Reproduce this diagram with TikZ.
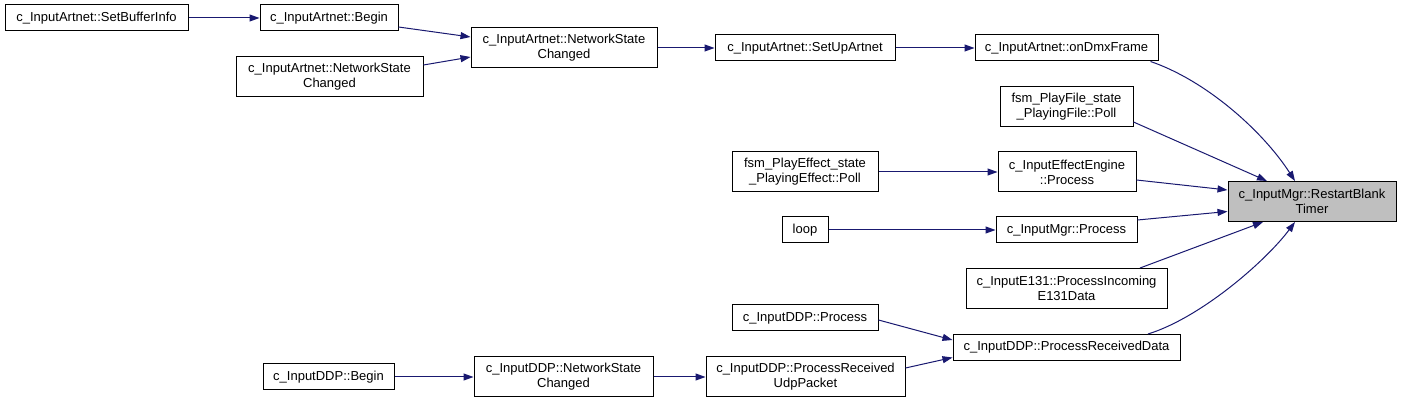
\documentclass[tikz,border=0pt]{standalone}
\usepackage{fontspec}
\setmainfont{Liberation Sans}
\usetikzlibrary{arrows.meta,calc}
\definecolor{edgeblue}{RGB}{25,25,112}
\definecolor{targetgray}{RGB}{191,191,191}
\tikzset{
  fn/.style={draw=black, line width=1pt, fill=white, inner sep=0pt, align=center,
    font=\fontsize{13pt}{15pt}\selectfont, minimum height=26pt},
  fn2/.style={fn, minimum height=40pt},
  target/.style={fn2, fill=targetgray},
  call/.style={draw=edgeblue, line width=1pt, -{Triangle[length=10pt,width=7pt]}},
}
\begin{document}
\begin{tikzpicture}[x=1pt,y=-1pt]
\useasboundingbox (0,0) rectangle (1401,403);
% nodes
\node[fn, minimum width=183pt] (n1) at (96.5,18) {c\_InputArtnet::SetBufferInfo};
\node[fn, minimum width=138pt] (n2) at (329,18) {c\_InputArtnet::Begin};
\node[fn2, minimum width=187pt] (n3) at (329.5,77) {c\_InputArtnet::NetworkState\\Changed};
\node[fn2, minimum width=186pt] (n4) at (564,48) {c\_InputArtnet::NetworkState\\Changed};
\node[fn, minimum width=180pt] (n5) at (805,48) {c\_InputArtnet::SetUpArtnet};
\node[fn, minimum width=183pt] (n6) at (1066.5,48) {c\_InputArtnet::onDmxFrame};
\node[fn2, minimum width=133pt] (n7) at (1066.5,107) {fsm\_PlayFile\_state\\\_PlayingFile::Poll};
\node[fn2, minimum width=138pt] (n8) at (1067,172) {c\_InputEffectEngine\\::Process};
\node[fn, minimum width=141pt] (n9) at (1066.5,230) {c\_InputMgr::Process};
\node[fn2, minimum width=201pt] (n10) at (1066.5,288.5) {c\_InputE131::ProcessIncoming\\E131Data};
\node[fn, minimum width=227pt] (n11) at (1066.5,347.5) {c\_InputDDP::ProcessReceivedData};
\node[target, minimum width=168pt] (t) at (1312,201.5) {c\_InputMgr::RestartBlank\\Timer};
\node[fn2, minimum width=146pt] (n12) at (805,172) {fsm\_PlayEffect\_state\\\_PlayingEffect::Poll};
\node[fn, minimum width=46pt] (n13) at (805,230) {loop};
\node[fn, minimum width=146pt] (n14) at (805,318) {c\_InputDDP::Process};
\node[fn2, minimum width=199pt] (n15) at (805.5,377) {c\_InputDDP::ProcessReceived\\UdpPacket};
\node[fn2, minimum width=179pt] (n16) at (563.5,377) {c\_InputDDP::NetworkState\\Changed};
\node[fn, minimum width=131pt] (n17) at (328.5,377) {c\_InputDDP::Begin};
% edges
\draw[call] (n1.east) -- (n2.west);
\draw[call] ($(n2.east)+(0,9)$) -- ($(n4.west)+(0,-11)$);
\draw[call] ($(n3.east)+(0,-12)$) -- ($(n4.west)+(0,9)$);
\draw[call] (n4.east) -- (n5.west);
\draw[call] (n5.east) -- (n6.west);
\draw[call] ($(n6.south east)+(-8,0)$) .. controls (1205,80) and (1262,130) .. ($(t.north)+(-17,0)$);
\draw[call] ($(n7.east)+(0,15)$) -- ($(t.north)+(-45,0)$);
\draw[call] ($(n8.east)+(0,8)$) -- ($(t.west)+(0,-11.5)$);
\draw[call] (n12.east) -- (n8.west);
\draw[call] (n13.east) -- (n9.west);
\draw[call] ($(n9.east)+(0,-10)$) -- ($(t.west)+(0,10)$);
\draw[call] ($(n10.north)+(73.5,0)$) -- ($(t.south)+(-49,0)$);
\draw[call] ($(n11.north)+(81.5,0)$) .. controls (1200,318) and (1265,262) .. ($(t.south)+(-17,0)$);
\draw[call] ($(n14.east)+(0,2)$) -- ($(n11.west)+(0,-7.5)$);
\draw[call] ($(n15.east)+(0,-9)$) -- ($(n11.west)+(0,10)$);
\draw[call] (n16.east) -- (n15.west);
\draw[call] (n17.east) -- (n16.west);
\end{tikzpicture}
\end{document}
